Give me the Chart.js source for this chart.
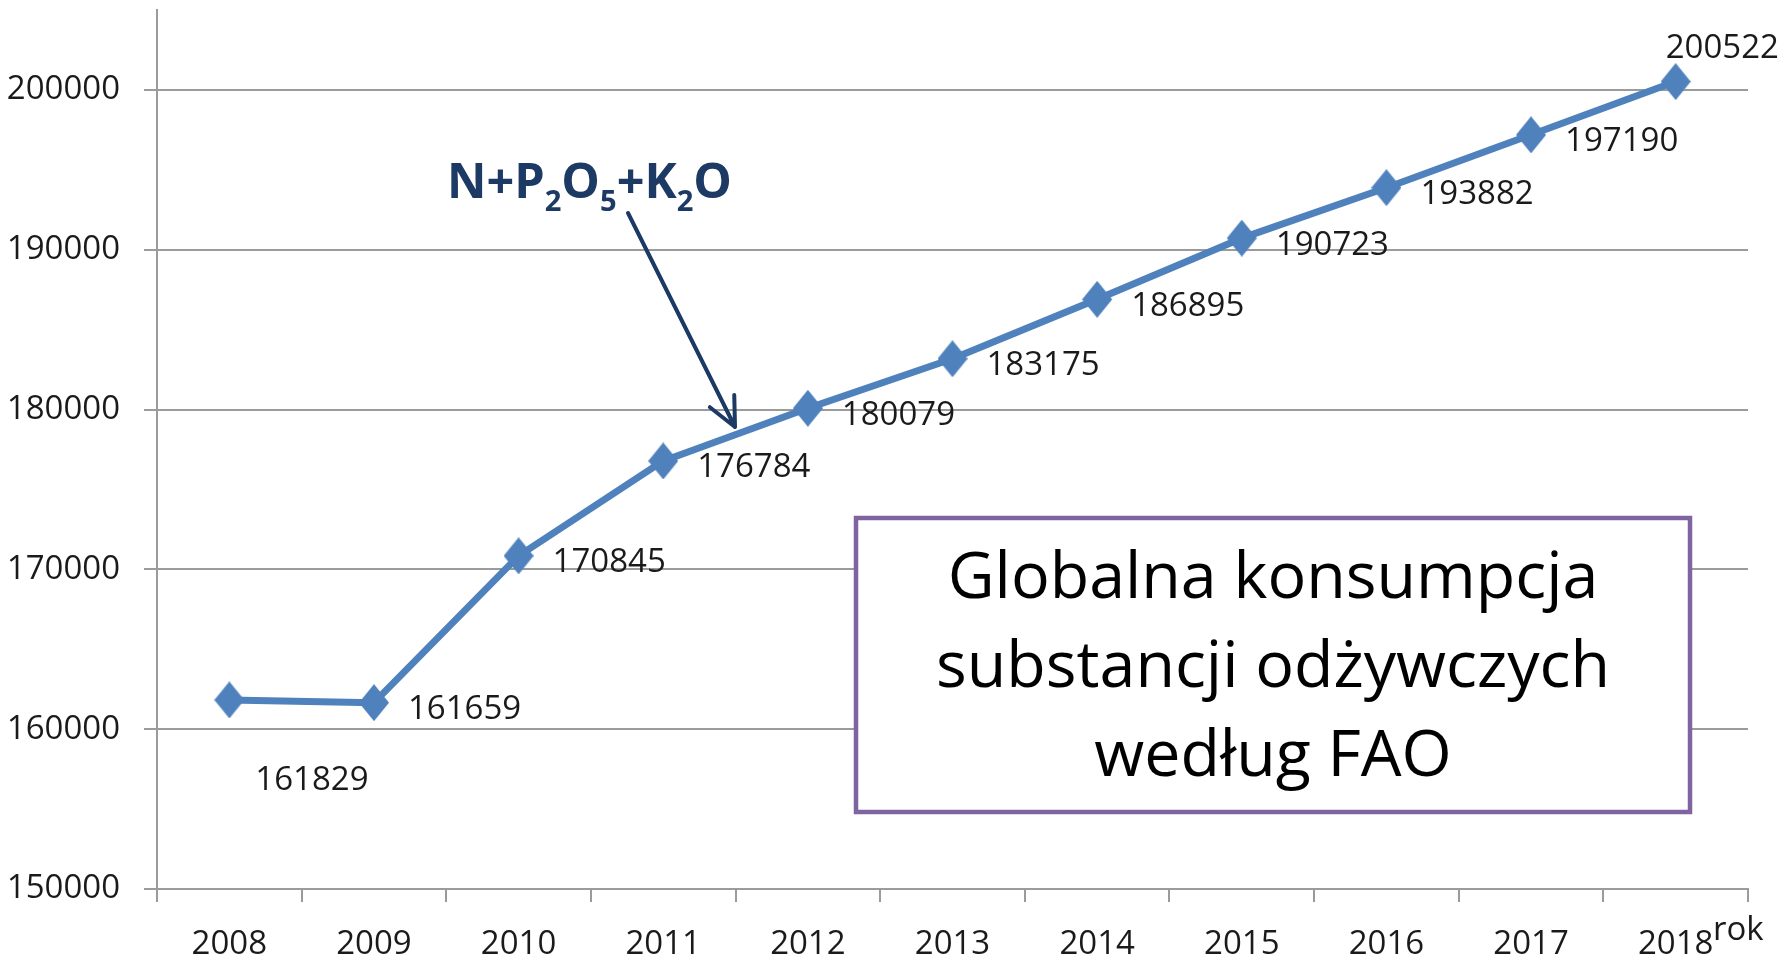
<!DOCTYPE html>
<html>
<head>
<meta charset="utf-8">
<script src="https://cdn.jsdelivr.net/npm/chart.js@4.4.1/dist/chart.umd.min.js"></script>
<style>
html,body{margin:0;padding:0;background:#ffffff;}
canvas{display:block;}
</style>
</head>
<body>
<canvas id="chart" width="1781" height="963"></canvas>
<script>
// ---- data ----
const years = ['2008','2009','2010','2011','2012','2013','2014','2015','2016','2017','2018'];
const consumption = [161829, 161659, 170845, 176784, 180079, 183175, 186895, 190723, 193882, 197190, 200522];
const yTickValues = [150000, 160000, 170000, 180000, 190000, 200000];
const axisUnit = 'rok';
const formulaParts = [['N+P', false], ['2', true], ['O', false], ['5', true], ['+K', false], ['2', true], ['O', false]];
const boxLines = ['Globalna konsumpcja', 'substancji odżywczych', 'według FAO'];

// ---- styles ----
const labelPlacement = ['belowRight','right','right','right','right','right','right','right','right','right','aboveLeft'];
const FONT = '"Open Sans", "Liberation Sans", sans-serif';
const TXT = '#1a1a1a';
const GRID = '#9b9b9b';
const LINE = '#4F81BD';
const NAVY = '#1c3a63';
const PURPLE = '#8064A2';

// diamond marker (slightly taller than wide, as in the reference)
const diamond = document.createElement('canvas');
diamond.width = 30; diamond.height = 37;
(function(){
  const d = diamond.getContext('2d');
  d.fillStyle = LINE;
  d.beginPath();
  d.moveTo(15, 0); d.lineTo(30, 18.5); d.lineTo(15, 37); d.lineTo(0, 18.5);
  d.closePath(); d.fill();
})();

function fitSize(ctx, text, weight, target) {
  ctx.font = weight + ' 100px ' + FONT;
  return 100 * target / ctx.measureText(text).width;
}

const overlayPlugin = {
  id: 'overlay',
  afterDatasetsDraw(chart) {
    const ctx = chart.ctx;
    const meta = chart.getDatasetMeta(0);
    ctx.save();
    ctx.font = '33px ' + FONT;
    ctx.fillStyle = TXT;
    ctx.textBaseline = 'middle';
    meta.data.forEach((pt, i) => {
      const txt = String(consumption[i]);
      let x = pt.x, y = pt.y;
      const p = labelPlacement[i];
      ctx.textAlign = 'left';
      if (p === 'right') { x += 34; y += 7; }
      else if (p === 'belowRight') { x += 26; y += 81; }
      else if (p === 'aboveLeft') { x -= 10; y -= 33; }
      ctx.fillText(txt, x, y);
    });
    ctx.restore();
  },
  afterDraw(chart) {
    const ctx = chart.ctx;
    const area = chart.chartArea;
    ctx.save();

    // unit label "rok"
    ctx.font = '33px ' + FONT;
    ctx.fillStyle = TXT;
    ctx.textAlign = 'left';
    ctx.textBaseline = 'alphabetic';
    ctx.fillText(axisUnit, area.right - 35, 940);

    // formula annotation with subscripts
    let widthAt100 = 0;
    formulaParts.forEach(([t, sub]) => {
      ctx.font = 'bold ' + (sub ? 60 : 100) + 'px ' + FONT;
      widthAt100 += ctx.measureText(t).width;
    });
    const M = 100 * 285 / widthAt100;
    let fx = 447;
    const fBase = 198;
    ctx.fillStyle = NAVY;
    formulaParts.forEach(([t, sub]) => {
      ctx.font = 'bold ' + (sub ? 0.6 * M : M) + 'px ' + FONT;
      ctx.fillText(t, fx, sub ? fBase + 0.26 * M : fBase);
      fx += ctx.measureText(t).width;
    });

    // arrow
    const sx = 628, sy = 213, tx = 735, ty = 427;
    ctx.strokeStyle = NAVY;
    ctx.lineWidth = 4;
    ctx.lineCap = 'round';
    ctx.lineJoin = 'round';
    ctx.beginPath();
    ctx.moveTo(sx, sy); ctx.lineTo(tx, ty);
    const ang = Math.atan2(sy - ty, sx - tx);
    const L = 32, spread = 0.44;
    ctx.moveTo(tx + L * Math.cos(ang - spread), ty + L * Math.sin(ang - spread));
    ctx.lineTo(tx, ty);
    ctx.lineTo(tx + L * Math.cos(ang + spread), ty + L * Math.sin(ang + spread));
    ctx.stroke();

    // text box
    const bx = 856, by = 518, bw = 1690 - 856, bh = 812 - 518;
    ctx.fillStyle = '#ffffff';
    ctx.fillRect(bx, by, bw, bh);
    ctx.strokeStyle = PURPLE;
    ctx.lineWidth = 4.5;
    ctx.lineCap = 'butt';
    ctx.lineJoin = 'miter';
    ctx.strokeRect(bx, by, bw, bh);

    const bs = fitSize(ctx, boxLines[1], 'normal', 674);
    ctx.font = bs + 'px ' + FONT;
    ctx.fillStyle = '#000000';
    ctx.textAlign = 'center';
    ctx.textBaseline = 'alphabetic';
    const baselines = [598, 687, 776];
    boxLines.forEach((t, i) => ctx.fillText(t, bx + bw / 2, baselines[i]));
    ctx.restore();
  }
};

new Chart(document.getElementById('chart'), {
  type: 'line',
  data: {
    labels: years,
    datasets: [{
      data: consumption,
      borderColor: LINE,
      backgroundColor: LINE,
      borderWidth: 7,
      tension: 0,
      fill: false,
      clip: false,
      pointStyle: diamond,
      pointRadius: 15,
      pointHoverRadius: 15,
      borderJoinStyle: 'round'
    }]
  },
  options: {
    responsive: false,
    animation: false,
    events: [],
    layout: { autoPadding: false, padding: { top: 10, right: 33, left: 0, bottom: 0 } },
    plugins: { legend: { display: false }, tooltip: { enabled: false } },
    scales: {
      x: {
        type: 'category',
        offset: true,
        grid: { offset: true, drawOnChartArea: false, drawTicks: true, tickLength: 13, color: GRID, lineWidth: 2 },
        border: { display: true, color: GRID, width: 2 },
        ticks: { font: { family: FONT, size: 33 }, color: TXT, padding: 23, maxRotation: 0, autoSkip: false },
        afterFit(s) { s.height = 74; s.paddingLeft = 0; s.paddingRight = 0; }
      },
      y: {
        type: 'linear',
        min: 150000,
        max: 205000,
        afterBuildTicks(s) { s.ticks = yTickValues.map(v => ({ value: v })); },
        grid: { color: GRID, lineWidth: 2, tickLength: 13, drawTicks: true },
        border: { display: true, color: GRID, width: 2 },
        ticks: { font: { family: FONT, size: 33 }, color: TXT, padding: 24, callback: v => String(v) },
        afterFit(s) { s.width = 157; s.paddingTop = 0; s.paddingBottom = 0; }
      }
    }
  },
  plugins: [overlayPlugin]
});
</script>
</body>
</html>
